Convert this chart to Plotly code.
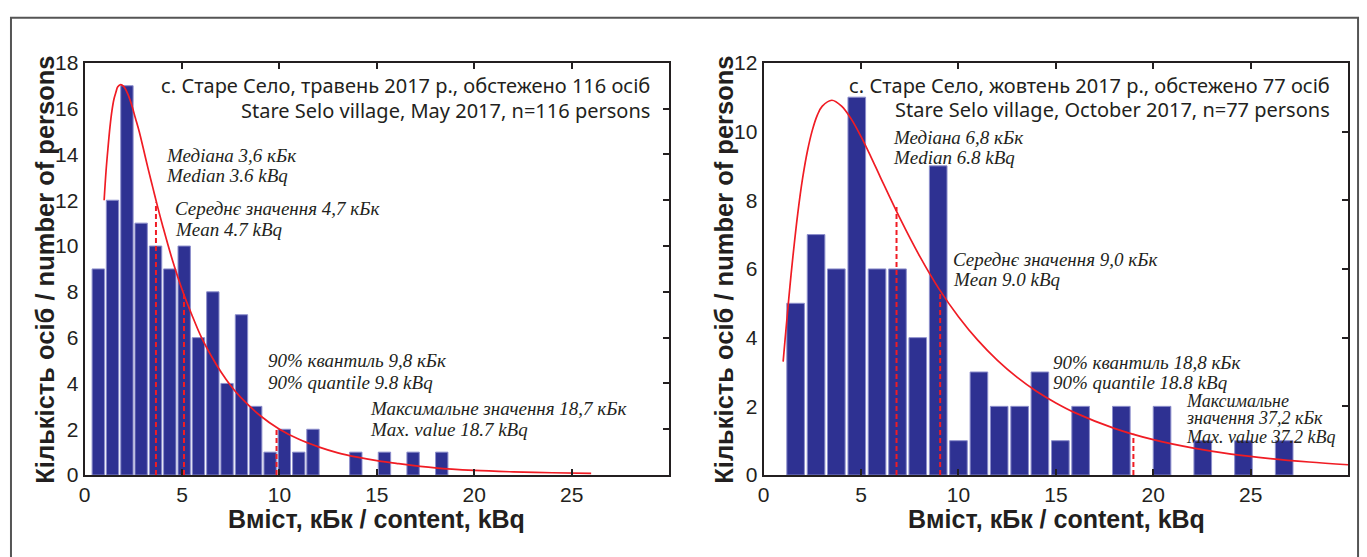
import plotly.graph_objects as go

W, H = 1367, 557

# ---------------- data: May 2017 (left panel) ----------------
may_bin_centers = [0.70, 1.43, 2.17, 2.90, 3.64, 4.37, 5.11, 5.84, 6.58, 7.31,
                   8.05, 8.78, 9.52, 10.25, 10.99, 11.72, 13.92, 15.39, 16.86, 18.33]
may_counts = [9, 12, 17, 11, 10, 9, 10, 6, 8, 4, 7, 3, 1, 2, 1, 2, 1, 1, 1, 1]

may_fit_x = [1.0, 1.1, 1.2, 1.3, 1.4, 1.5, 1.6, 1.7, 1.85, 2.0, 2.2, 2.4, 2.6, 2.8,
             3.0, 3.25, 3.5, 3.75, 4.0, 4.5, 5.0, 5.5, 6.0, 6.5, 7.0, 7.5, 8.0,
             9.0, 10.0, 11.0, 12.0, 13.0, 14.0, 15.0, 16.0, 18.0, 20.0, 22.0, 24.0, 26.0]
may_fit_y = [12.0, 13.3, 14.3, 15.2, 15.9, 16.4, 16.7, 16.95, 17.05, 16.97, 16.67,
             16.2, 15.6, 15.0, 14.3, 13.4, 12.55, 11.7, 10.9, 9.4, 8.1, 7.0, 6.0,
             5.2, 4.5, 3.9, 3.4, 2.6, 2.0, 1.56, 1.23, 0.97, 0.78, 0.63, 0.51,
             0.31, 0.2, 0.14, 0.1, 0.07]

may_stat_x = [3.66, 5.1, 9.85]      # median, mean, 90% quantile markers
may_stat_top = [11.9, 8.05, 2.1]

# ---------------- data: October 2017 (right panel) ----------------
oct_bin_centers = [1.64, 2.69, 3.73, 4.78, 5.82, 6.87, 7.91, 8.96, 10.00, 11.05,
                   12.09, 13.14, 14.18, 15.23, 16.27, 18.36, 20.45, 22.54, 24.63, 26.72]
oct_counts = [5, 7, 6, 11, 6, 6, 4, 9, 1, 3, 2, 2, 3, 1, 2, 2, 2, 1, 1, 1]

oct_fit_x = [1.0, 1.1, 1.2, 1.35, 1.5, 1.75, 2.0, 2.25, 2.5, 2.75, 3.0, 3.5, 4.0,
             4.5, 5.0, 5.5, 6.0, 7.0, 8.0, 9.0, 10.0, 11.0, 12.0, 13.0, 14.0, 15.0,
             16.0, 18.0, 20.0, 22.0, 24.0, 26.0, 28.0, 30.0]
oct_fit_y = [3.3, 3.95, 4.58, 5.5, 6.35, 7.61, 8.64, 9.44, 10.04, 10.47, 10.73,
             10.91, 10.74, 10.36, 9.85, 9.27, 8.66, 7.47, 6.38, 5.42, 4.61, 3.92,
             3.34, 2.85, 2.44, 2.1, 1.81, 1.36, 1.03, 0.79, 0.61, 0.48, 0.38, 0.3]

oct_stat_x = [6.82, 9.06, 18.98]
oct_stat_top = [7.8, 5.3, 1.2]

x_ticks = [0, 5, 10, 15, 20, 25]
may_y_ticks = [0, 2, 4, 6, 8, 10, 12, 14, 16, 18]
oct_y_ticks = [0, 2, 4, 6, 8, 10, 12]

x_title = "Вміст, кБк / content, kBq"
y_title = "Кількість осіб / number of persons"

# ---------------- styling ----------------
BAR = "#2e3192"
BAR_EDGE = "#8d8fcc"
RED = "#f01c24"
AX = "#231f20"
TICKFONT = dict(family="Liberation Sans Narrow, Arial Narrow, Liberation Sans, Arial",
                size=21, color=AX)
SANS = "Noto Sans, Open Sans, sans-serif"
SERIF = "Liberation Serif, Times New Roman, serif"


def px_x(p):
    return p / W


def px_y(p):
    return 1 - p / H


fig = go.Figure()


def dashed(xs, tops):
    xx, yy = [], []
    for x, t in zip(xs, tops):
        xx += [x, x, None]
        yy += [0, t, None]
    return xx, yy


# left panel
fig.add_trace(go.Bar(x=may_bin_centers, y=may_counts, xaxis="x", yaxis="y",
                     marker=dict(color=BAR, line=dict(color=BAR_EDGE, width=1)),
                     showlegend=False, hoverinfo="x+y"))
dx, dy = dashed(may_stat_x, may_stat_top)
fig.add_trace(go.Scatter(x=dx, y=dy, mode="lines", xaxis="x", yaxis="y",
                         line=dict(color=RED, width=2, dash="5px,3px"),
                         showlegend=False, hoverinfo="skip"))
fig.add_trace(go.Scatter(x=may_fit_x, y=may_fit_y, mode="lines", xaxis="x", yaxis="y",
                         line=dict(color=RED, width=1.7, shape="spline"),
                         showlegend=False))
fig.add_trace(go.Scatter(x=[0], y=[0], mode="markers", xaxis="x", yaxis="y3",
                         marker=dict(opacity=0), showlegend=False, hoverinfo="skip"))

# right panel
fig.add_trace(go.Bar(x=oct_bin_centers, y=oct_counts, xaxis="x2", yaxis="y2",
                     marker=dict(color=BAR, line=dict(color=BAR_EDGE, width=1)),
                     showlegend=False, hoverinfo="x+y"))
dx, dy = dashed(oct_stat_x, oct_stat_top)
fig.add_trace(go.Scatter(x=dx, y=dy, mode="lines", xaxis="x2", yaxis="y2",
                         line=dict(color=RED, width=2, dash="5px,3px"),
                         showlegend=False, hoverinfo="skip"))
fig.add_trace(go.Scatter(x=oct_fit_x, y=oct_fit_y, mode="lines", xaxis="x2", yaxis="y2",
                         line=dict(color=RED, width=1.7, shape="spline"),
                         showlegend=False))
fig.add_trace(go.Scatter(x=[0], y=[0], mode="markers", xaxis="x2", yaxis="y4",
                         marker=dict(opacity=0), showlegend=False, hoverinfo="skip"))

L_X = [px_x(79), px_x(666)]
R_X = [px_x(761), px_x(1348)]
Y_D = [px_y(483), px_y(53)]

xcommon = dict(range=[0, 30], tickvals=x_ticks, ticks="inside", ticklen=6,
               tickwidth=1.5, tickcolor=AX, showline=True, linewidth=2,
               linecolor=AX, mirror="ticks", showgrid=False, zeroline=False,
               tickfont=TICKFONT, fixedrange=True)
ycommon = dict(ticks="", showline=True, linewidth=2, linecolor=AX, mirror=True,
               showgrid=False, zeroline=False, tickfont=TICKFONT, fixedrange=True)
yticks_right = dict(side="right", ticks="inside", ticklen=6, tickwidth=1.5,
                    tickcolor=AX, showticklabels=False, showline=False,
                    showgrid=False, zeroline=False, fixedrange=True)

fig.update_layout(
    width=W, height=H,
    margin=dict(l=0, r=0, t=0, b=0),
    paper_bgcolor="white", plot_bgcolor="white",
    bargap=0.13,
    xaxis=dict(domain=L_X, anchor="y", **xcommon),
    yaxis=dict(domain=Y_D, anchor="x", range=[0, 18], tickvals=may_y_ticks, **ycommon),
    yaxis3=dict(overlaying="y", anchor="x", range=[0, 18], tickvals=may_y_ticks, **yticks_right),
    xaxis2=dict(domain=R_X, anchor="y2", **xcommon),
    yaxis2=dict(domain=Y_D, anchor="x2", range=[0, 12], tickvals=oct_y_ticks, **ycommon),
    yaxis4=dict(overlaying="y2", anchor="x2", range=[0, 12], tickvals=oct_y_ticks, **yticks_right),
)

# outer frame
fig.add_shape(type="rect", xref="paper", yref="paper",
              x0=px_x(5), x1=px_x(1358), y0=px_y(575), y1=px_y(6),
              line=dict(color="#555555", width=2), fillcolor="rgba(0,0,0,0)", layer="below")

ann = []


def txt(text, x, y, xref, yref, font, xanchor="left", size=19, italic=False, angle=0,
        bold=False):
    f = dict(family=font, size=size, color=AX)
    if italic:
        f["style"] = "italic"
    if bold:
        f["weight"] = "bold"
    ann.append(dict(text=text, x=x, y=y, xref=xref, yref=yref, xanchor=xanchor,
                    yanchor="middle", showarrow=False, font=f, textangle=angle))


HS = 20
# headers
txt("с. Старе Село, травень 2017 р., обстежено 116 осіб", 29.1, 17.0, "x", "y", SANS, "right", HS)
txt("Stare Selo village, May 2017, n=116 persons", 29.1, 15.92, "x", "y", SANS, "right", HS)
txt("с. Старе Село, жовтень 2017 р., обстежено 77 осіб", 29.2, 11.35, "x2", "y2", SANS, "right", HS)
txt("Stare Selo village, October 2017, n=77 persons", 29.2, 10.63, "x2", "y2", SANS, "right", HS)

# left statistics
txt("Медіана 3,6 кБк", 4.05, 13.95, "x", "y", SERIF, italic=True)
txt("Median 3.6 kBq", 4.05, 13.08, "x", "y", SERIF, italic=True)
txt("Середнє значення 4,7 кБк", 4.55, 11.63, "x", "y", SERIF, italic=True)
txt("Mean 4.7 kBq", 4.55, 10.72, "x", "y", SERIF, italic=True)
txt("90% квантиль 9,8 кБк", 9.33, 5.0, "x", "y", SERIF, italic=True)
txt("90% quantile 9.8 kBq", 9.33, 4.06, "x", "y", SERIF, italic=True)
txt("Максимальне значення 18,7 кБк", 14.53, 2.92, "x", "y", SERIF, italic=True)
txt("Max. value 18.7 kBq", 14.53, 2.0, "x", "y", SERIF, italic=True)

# right statistics
txt("Медіана 6,8 кБк", 6.54, 9.84, "x2", "y2", SERIF, italic=True)
txt("Median 6.8 kBq", 6.54, 9.24, "x2", "y2", SERIF, italic=True)
txt("Середнє значення 9,0 кБк", 9.61, 6.27, "x2", "y2", SERIF, italic=True)
txt("Mean 9.0 kBq", 9.61, 5.69, "x2", "y2", SERIF, italic=True)
txt("90% квантиль 18,8 кБк", 14.77, 3.29, "x2", "y2", SERIF, italic=True)
txt("90% quantile 18.8 kBq", 14.77, 2.68, "x2", "y2", SERIF, italic=True)
txt("Максимальне", 21.56, 2.17, "x2", "y2", SERIF, italic=True, size=18)
txt("значення 37,2 кБк", 21.56, 1.65, "x2", "y2", SERIF, italic=True, size=18)
txt("Max. value 37.2 kBq", 21.56, 1.11, "x2", "y2", SERIF, italic=True, size=18)

# axis titles
BOLD = "Liberation Sans, Arial, sans-serif"
txt(x_title, px_x(372), px_y(529), "paper", "paper", BOLD, "center", 25, bold=True)
txt(x_title, px_x(1055), px_y(529), "paper", "paper", BOLD, "center", 25, bold=True)
txt(y_title, px_x(39), px_y(269), "paper", "paper", BOLD, "center", 25.5, angle=-90, bold=True)
txt(y_title, px_x(721), px_y(269), "paper", "paper", BOLD, "center", 25.5, angle=-90, bold=True)

fig.update_layout(annotations=ann)

fig.write_html("out.html")
